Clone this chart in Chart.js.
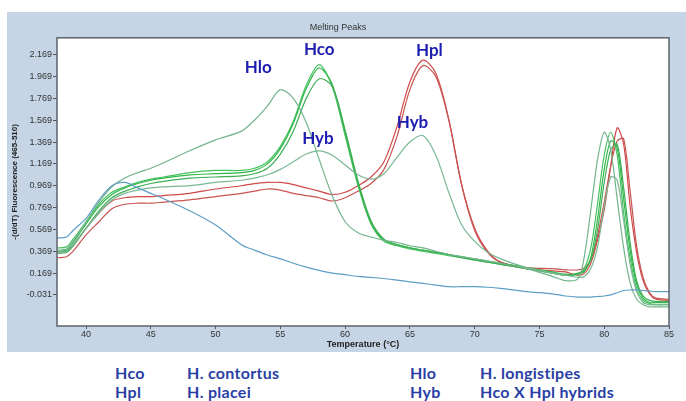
<!DOCTYPE html>
<html>
<head>
<meta charset="utf-8">
<script src="https://cdn.jsdelivr.net/npm/chart.js@4"></script>
<style>
  body { margin: 0; width: 686px; height: 401px; background: #fff; overflow: hidden; }
  #panel { position: absolute; left: 7px; top: 12px; width: 679px; height: 340px; background: #c5d5e6; }
  .key { position: absolute; font: bold 16px Lato, sans-serif; line-height: 18px; color: #2a3fa5; white-space: nowrap; letter-spacing: 0.3px; }
</style>
</head>
<body>
<div id="panel"><canvas id="melt"></canvas></div>

<div class="key" style="left:115px;top:364px">Hco</div>
<div class="key" style="left:187px;top:364px">H. contortus</div>
<div class="key" style="left:410px;top:364px">Hlo</div>
<div class="key" style="left:480px;top:364px">H. longistipes</div>
<div class="key" style="left:115px;top:383px">Hpl</div>
<div class="key" style="left:187px;top:383px">H. placei</div>
<div class="key" style="left:410px;top:383px">Hyb</div>
<div class="key" style="left:480px;top:383px">Hco X Hpl hybrids</div>

<script>
// temperature grid (°C)
const temps = [37.8, 38.5, 39, 40, 41, 42, 43, 44, 45, 46, 48, 50, 52, 53, 54, 55, 56, 57, 58, 59,
  60, 61, 62, 63, 64, 65, 66, 67, 68, 69, 70, 71, 72, 74, 76, 77, 78, 78.5, 79, 79.5,
  80, 80.5, 81, 81.5, 82, 82.5, 83, 83.5, 84, 85];

// -(d/dT) fluorescence
const blank = [0.49, 0.50, 0.56, 0.67, 0.84, 0.97, 1.00, 0.95, 0.90, 0.85, 0.74, 0.61, 0.43, 0.38, 0.335, 0.30, 0.26, 0.225, 0.195, 0.17,
  0.155, 0.14, 0.13, 0.12, 0.105, 0.09, 0.075, 0.06, 0.045, 0.045, 0.045, 0.04, 0.03, 0.0, -0.02, -0.04, -0.05, -0.05, -0.05, -0.045,
  -0.04, -0.03, -0.01, 0.01, 0.015, 0.015, 0.01, 0.005, 0.0, 0.0];

const hpl1 = [0.36, 0.37, 0.42, 0.58, 0.72, 0.83, 0.86, 0.87, 0.87, 0.88, 0.90, 0.94, 0.97, 0.99, 1.00, 1.00, 0.98, 0.95, 0.92, 0.89,
  0.91, 0.97, 1.05, 1.19, 1.51, 1.92, 2.12, 2.00, 1.58, 0.98, 0.58, 0.37, 0.27, 0.21, 0.19, 0.18, 0.15, 0.17, 0.27, 0.48,
  0.75, 1.15, 1.50, 1.35, 0.78, 0.36, 0.10, -0.02, -0.07, -0.08];

const hpl2 = [0.31, 0.32, 0.37, 0.52, 0.64, 0.76, 0.80, 0.81, 0.81, 0.82, 0.84, 0.87, 0.90, 0.92, 0.94, 0.93, 0.90, 0.88, 0.86, 0.83,
  0.86, 0.92, 0.99, 1.12, 1.42, 1.85, 2.07, 1.97, 1.57, 0.97, 0.56, 0.36, 0.27, 0.22, 0.21, 0.20, 0.20, 0.22, 0.30, 0.52,
  0.82, 1.15, 1.38, 1.40, 0.92, 0.42, 0.13, -0.01, -0.06, -0.07];

const hco1 = [0.40, 0.41, 0.48, 0.64, 0.80, 0.91, 0.96, 1.00, 1.03, 1.05, 1.09, 1.11, 1.11, 1.13, 1.19, 1.33, 1.56, 1.89, 2.08, 1.88,
  1.43, 0.97, 0.62, 0.46, 0.42, 0.39, 0.37, 0.35, 0.33, 0.31, 0.29, 0.27, 0.25, 0.21, 0.17, 0.15, 0.16, 0.22, 0.42, 0.82,
  1.25, 1.46, 1.25, 0.72, 0.30, 0.03, -0.08, -0.11, -0.12, -0.12];

const hco2 = [0.37, 0.38, 0.45, 0.62, 0.78, 0.89, 0.95, 0.99, 1.02, 1.04, 1.07, 1.08, 1.09, 1.11, 1.17, 1.31, 1.54, 1.86, 2.05, 1.90,
  1.46, 0.99, 0.63, 0.47, 0.43, 0.40, 0.38, 0.36, 0.34, 0.32, 0.30, 0.28, 0.26, 0.22, 0.18, 0.16, 0.16, 0.19, 0.33, 0.68,
  1.12, 1.38, 1.32, 0.85, 0.38, 0.07, -0.06, -0.10, -0.10, -0.10];

const hco3 = [0.35, 0.36, 0.42, 0.58, 0.74, 0.86, 0.92, 0.96, 0.99, 1.01, 1.04, 1.05, 1.06, 1.08, 1.13, 1.26, 1.47, 1.77, 1.95, 1.88,
  1.48, 1.01, 0.65, 0.48, 0.43, 0.40, 0.38, 0.36, 0.34, 0.31, 0.29, 0.27, 0.25, 0.21, 0.17, 0.15, 0.17, 0.20, 0.30, 0.58,
  1.00, 1.30, 1.35, 0.95, 0.45, 0.10, -0.04, -0.08, -0.09, -0.09];

const hlo = [0.38, 0.39, 0.46, 0.64, 0.82, 0.96, 1.04, 1.09, 1.13, 1.18, 1.29, 1.39, 1.47, 1.57, 1.70, 1.85, 1.77, 1.55, 1.21, 0.88,
  0.64, 0.54, 0.50, 0.47, 0.45, 0.42, 0.40, 0.37, 0.34, 0.32, 0.30, 0.28, 0.26, 0.21, 0.14, 0.10, 0.12, 0.35, 0.78, 1.22,
  1.46, 1.30, 0.85, 0.40, 0.08, -0.07, -0.12, -0.14, -0.14, -0.14];

const hyb = [0.36, 0.37, 0.43, 0.58, 0.72, 0.84, 0.90, 0.93, 0.95, 0.96, 0.97, 1.00, 1.02, 1.04, 1.07, 1.12, 1.19, 1.26, 1.29, 1.25,
  1.16, 1.07, 1.03, 1.08, 1.23, 1.37, 1.43, 1.25, 0.91, 0.61, 0.46, 0.36, 0.30, 0.22, 0.17, 0.15, 0.13, 0.14, 0.22, 0.42,
  0.78, 1.05, 1.02, 0.65, 0.25, 0.0, -0.10, -0.12, -0.12, -0.12];

const xTicks = [40, 45, 50, 55, 60, 65, 70, 75, 80, 85];
const yTicks = [-0.031, 0.169, 0.369, 0.569, 0.769, 0.969, 1.169, 1.369, 1.569, 1.769, 1.969, 2.169];

// peak labels
const noteText = ['Hlo', 'Hco', 'Hyb', 'Hpl', 'Hyb'];
const noteTemp = [53.3, 58.0, 57.9, 66.5, 65.2];
const noteValue = [2.05, 2.215, 1.40, 2.21, 1.545];

const series = [
  { data: blank, color: '#5d9ec4' },
  { data: hlo, color: '#74b48c' },
  { data: hyb, color: '#7ab894' },
  { data: hco3, color: '#3fae55' },
  { data: hco2, color: '#2fb84a' },
  { data: hco1, color: '#48c060' },
  { data: hpl2, color: '#c65450' },
  { data: hpl1, color: '#d04848' }
];

const plotFrame = {
  id: 'plotFrame',
  beforeDatasetsDraw(chart) {
    const { ctx, chartArea: a } = chart;
    ctx.save();
    ctx.fillStyle = '#fff';
    ctx.fillRect(a.left, a.top, a.right - a.left, a.bottom - a.top);
    ctx.restore();
  },
  afterDatasetsDraw(chart) {
    const { ctx, chartArea: a, scales } = chart;
    ctx.save();
    ctx.strokeStyle = '#5c636b';
    ctx.lineWidth = 1.5;
    ctx.strokeRect(a.left, a.top, a.right - a.left, a.bottom - a.top);

    ctx.fillStyle = '#1c1cb0';
    ctx.font = 'bold 17px Lato, sans-serif';
    ctx.textAlign = 'center';
    ctx.textBaseline = 'middle';
    for (let i = 0; i < noteText.length; i++) {
      ctx.fillText(noteText[i], scales.x.getPixelForValue(noteTemp[i]), scales.y.getPixelForValue(noteValue[i]));
    }
    ctx.restore();
  }
};

new Chart(document.getElementById('melt'), {
  type: 'line',
  data: {
    datasets: series.map(s => ({
      data: temps.map((t, i) => ({ x: t, y: s.data[i] })),
      borderColor: s.color,
      borderWidth: 1.2,
      pointRadius: 0,
      tension: 0.3
    }))
  },
  options: {
    responsive: true,
    maintainAspectRatio: false,
    animation: false,
    devicePixelRatio: 1,
    layout: { padding: { left: 0, right: 17, top: 0, bottom: 0 } },
    plugins: {
      legend: { display: false },
      tooltip: { enabled: false },
      title: {
        display: true,
        text: 'Melting Peaks',
        color: '#333',
        font: { family: 'Liberation Sans', size: 9, weight: 'normal' },
        padding: { top: 10, bottom: 5 }
      }
    },
    scales: {
      x: {
        type: 'linear',
        min: 37.76,
        max: 85,
        afterBuildTicks: axis => { axis.ticks = xTicks.map(v => ({ value: v })); },
        afterFit: s => { s.height = 26; },
        border: { display: false },
        grid: { drawOnChartArea: false, tickLength: 3, color: '#555' },
        ticks: { color: '#333', font: { family: 'Liberation Sans', size: 9 }, padding: 0, maxRotation: 0, autoSkip: false },
        title: {
          display: true,
          text: 'Temperature (°C)',
          color: '#222',
          font: { family: 'Liberation Sans', size: 9, weight: 'bold' },
          padding: { top: 0, bottom: 2 }
        }
      },
      y: {
        min: -0.315,
        max: 2.325,
        afterBuildTicks: axis => { axis.ticks = yTicks.map(v => ({ value: v })); },
        afterFit: s => { s.width = 50; },
        border: { display: false },
        grid: { drawOnChartArea: false, tickLength: 4, color: '#555' },
        ticks: {
          color: '#333',
          font: { family: 'Liberation Sans', size: 9 },
          padding: 1,
          callback: v => v.toFixed(3)
        },
        title: {
          display: true,
          text: '-(d/dT) Fluorescence (465-510)',
          color: '#222',
          font: { family: 'Liberation Sans', size: 8, weight: 'bold' },
          padding: { top: 3, bottom: 0 }
        }
      }
    }
  },
  plugins: [plotFrame]
});
</script>
</body>
</html>
